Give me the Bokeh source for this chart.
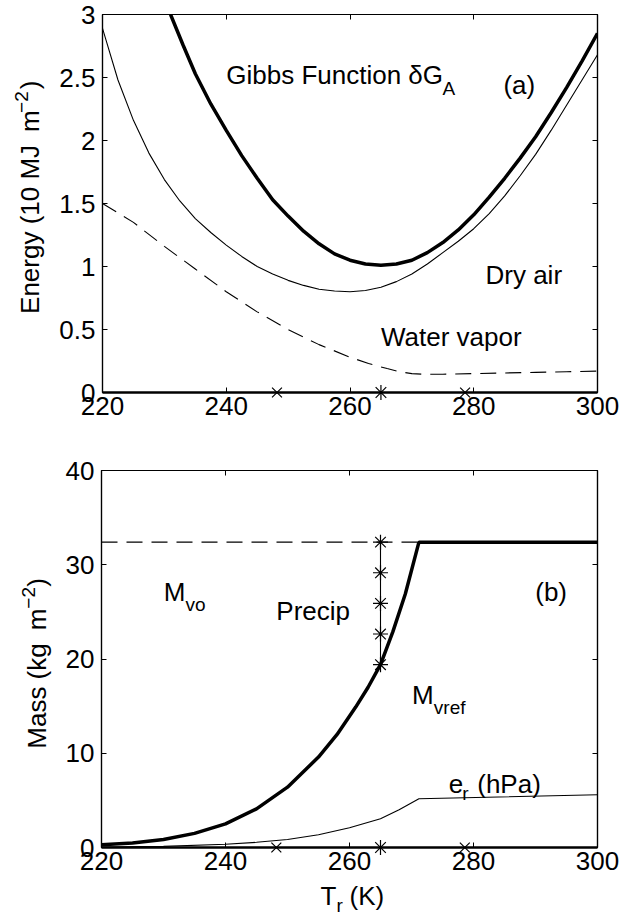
import math

from bokeh.plotting import figure
from bokeh.models import (Range1d, FixedTicker, LinearAxis, Label,
                          NumeralTickFormatter, CustomJSTickFormatter)
from bokeh.core.properties import value
from bokeh.layouts import column, row
from bokeh.embed import file_html
from bokeh.resources import INLINE

FONT = "Liberation Sans"
FS = "26px"      # main text size
FS_SUB = "19px"  # sub/superscript size

# ---------------- (a) energy, units of 10 MJ m^-2 ----------------
gibbs_T = [231, 233, 235, 237.5, 240, 242.5, 245, 247.5, 250, 252.5, 255, 257.5,
           260, 262.5, 265, 267.5, 270, 272.5, 275, 277.5, 280, 282.5, 285,
           287.5, 290, 292.5, 295, 297.5, 300]
gibbs_E = [3.00, 2.76, 2.53, 2.29, 2.08, 1.88, 1.70, 1.53, 1.40, 1.28, 1.18, 1.10,
           1.05, 1.02, 1.01, 1.02, 1.05, 1.11, 1.19, 1.29, 1.41, 1.55, 1.70,
           1.86, 2.03, 2.22, 2.42, 2.63, 2.85]

dry_T = [220, 222.5, 225, 227.5, 230, 232.5, 235, 237.5, 240, 242.5, 245, 247.5,
         250, 252.5, 255, 257.5, 260, 262.5, 265, 267.5, 270, 272.5, 275, 277.5,
         280, 282.5, 285, 287.5, 290, 292.5, 295, 297.5, 300]
dry_E = [2.89, 2.48, 2.16, 1.90, 1.69, 1.52, 1.38, 1.27, 1.17, 1.08, 1.00, 0.94,
         0.89, 0.85, 0.82, 0.805, 0.80, 0.81, 0.835, 0.88, 0.94, 1.02, 1.11, 1.20,
         1.30, 1.42, 1.56, 1.72, 1.89, 2.08, 2.28, 2.48, 2.68]

vap_T = [220, 225, 230, 235, 240, 245, 250, 255, 260, 263, 266, 268, 270, 272,
         275, 280, 285, 290, 295, 300]
vap_E = [1.50, 1.35, 1.16, 0.98, 0.80, 0.64, 0.50, 0.38, 0.28, 0.23, 0.19, 0.165,
         0.15, 0.145, 0.145, 0.15, 0.155, 0.16, 0.165, 0.17]

# ---------------- (b) mass, kg m^-2 ----------------
mvref_T = [220, 225, 230, 235, 240, 245, 250, 255, 258, 261, 263, 265, 267, 269,
           271.2, 300]
mvref_M = [0.28, 0.48, 0.85, 1.5, 2.5, 4.1, 6.4, 9.6, 12.0, 14.9, 17.0, 19.4,
           22.9, 26.9, 32.4, 32.4]

er_T = [220, 230, 240, 245, 250, 255, 260, 265, 268, 271.2, 300]
er_P = [0.05, 0.12, 0.35, 0.55, 0.85, 1.35, 2.1, 3.05, 4.0, 5.17, 5.6]

mvo_level = 32.4
mvo_T = [220, 271.2]

precip_T = 265.0
precip_M = [32.4, 29.15, 25.9, 22.65, 19.4]

cross_T = [248.2, 278.6]
star_T = [265.0]

T_ticks = [220, 240, 260, 280, 300]
E_ticks = [0, 0.5, 1, 1.5, 2, 2.5, 3]
M_ticks = [0, 10, 20, 30, 40]

BLANK = CustomJSTickFormatter(code="return ''")
UP = math.pi / 2
STRIP_W = 56


def box_axis(ticks):
    # tick marks only, pointing into the box
    return LinearAxis(ticker=FixedTicker(ticks=ticks), formatter=BLANK,
                      major_tick_in=5, major_tick_out=0,
                      minor_tick_line_color=None, major_label_standoff=0,
                      axis_line_width=1.2)


def make_panel(height, ymax, yticks, top, bottom):
    p = figure(width=627 - STRIP_W, height=height, x_range=Range1d(220, 300),
               y_range=Range1d(0, ymax), output_backend="svg",
               toolbar_location=None, min_border_left=101 - STRIP_W,
               min_border_right=30, min_border_top=top, min_border_bottom=bottom)
    p.grid.visible = False
    p.background_fill_color = "white"
    p.border_fill_color = "white"
    p.outline_line_color = "black"
    p.outline_line_width = 1.2

    p.xaxis.ticker = FixedTicker(ticks=T_ticks)
    p.yaxis.ticker = FixedTicker(ticks=yticks)
    p.yaxis.formatter = NumeralTickFormatter(format="0.[0]")
    for ax in [p.xaxis[0], p.yaxis[0]]:
        ax.major_tick_in = 5
        ax.major_tick_out = 0
        ax.minor_tick_line_color = None
        ax.major_tick_line_color = "black"
        ax.axis_line_color = "black"
        ax.axis_line_width = 1.2
        ax.major_label_text_font = FONT
        ax.major_label_text_font_size = FS
        ax.major_label_text_color = "black"
        ax.major_label_standoff = 7
    p.xaxis.major_label_standoff = 4
    p.xaxis.axis_line_width = 2.5

    p.add_layout(box_axis(yticks), "right")
    p.add_layout(box_axis(T_ticks), "above")

    # markers on the temperature axis
    r1 = p.scatter(cross_T, [0] * len(cross_T), marker="x", size=14,
                   line_color="black", line_width=1.2)
    r2 = p.scatter(star_T, [0] * len(star_T), marker="asterisk", size=15,
                   line_color="black", line_width=1.2)
    r1.level = "overlay"
    r2.level = "overlay"
    return p


def strip(width, height):
    # bare canvas in pixel units, used for axis titles
    f = figure(width=width, height=height, x_range=Range1d(0, width),
               y_range=Range1d(0, height), x_axis_type=None, y_axis_type=None,
               output_backend="svg", toolbar_location=None, min_border=0)
    f.grid.visible = False
    f.outline_line_color = None
    f.background_fill_color = "white"
    f.border_fill_color = "white"
    return f


def strip_text(f, xs, ys, texts, sizes, angle):
    # each piece is placed by the centre of its text box
    for x, y, t, s in zip(xs, ys, texts, sizes):
        f.text(x=[x], y=[y], text=[t], angle=angle, text_font=value(FONT),
               text_font_size=value(s), text_color="black",
               text_align="center", text_baseline="middle")


def label(p, x, y, text, size=FS):
    p.add_layout(Label(x=x, y=y, text=text, text_font=FONT, text_font_size=size,
                       text_color="black", text_align="left",
                       text_baseline="alphabetic"))


# ---------------- panel (a) ----------------
pa = make_panel(440, 3, E_ticks, 14, 48)
pa.line(vap_T, vap_E, line_color="black", line_width=1.1, line_dash="16 9")
pa.line(dry_T, dry_E, line_color="black", line_width=1.1)
pa.line(gibbs_T, gibbs_E, line_color="black", line_width=3.5)

label(pa, 240.0, 2.516, "Gibbs Function \u03b4G")
label(pa, 274.95, 2.41, "A", FS_SUB)
label(pa, 284.8, 2.44, "(a)")
label(pa, 281.9, 0.929, "Dry air")
label(pa, 265.0, 0.439, "Water vapor")

ya = strip(STRIP_W, 440)
strip_text(ya, [29, 21, 29], [210, 338, 358],
           ["Energy (10 MJ\u2002m", "\u22122", ")"], [FS, FS_SUB, FS], UP)

# ---------------- panel (b) ----------------
pb = make_panel(441, 40, M_ticks, 30, 34)
pb.line(mvo_T, [mvo_level] * len(mvo_T), line_color="black", line_width=1.1,
        line_dash="16 9")
pb.line(er_T, er_P, line_color="black", line_width=1.1)
pb.line(mvref_T, mvref_M, line_color="black", line_width=3.5)
pb.line([precip_T, precip_T], [min(precip_M), max(precip_M)],
        line_color="black", line_width=1.1)
pb.scatter([precip_T] * len(precip_M), precip_M, marker="asterisk", size=15,
           line_color="black", line_width=1.2)

label(pb, 230.05, 27.09, "M")
label(pb, 233.55, 25.78, "vo", FS_SUB)
label(pb, 248.2, 25.04, "Precip")
label(pb, 270.1, 16.23, "M")
label(pb, 273.6, 14.82, "vref", FS_SUB)
label(pb, 289.96, 27.16, "(b)")
label(pb, 276.0, 6.76, "e")
label(pb, 278.2, 5.70, "r", FS_SUB)
label(pb, 280.6, 6.76, "(hPa)")

yb = strip(STRIP_W, 441)
strip_text(yb, [36, 28, 36], [197.5, 292, 310],
           ["Mass (kg\u2002m", "\u22122", ")"], [FS, FS_SUB, FS], UP)

xb = strip(627, 36)
strip_text(xb, [327.9, 339.2, 366.3], [22, 11.6, 22], ["T", "r", "(K)"],
           [FS, FS_SUB, FS], 0.0)

layout = column(row(ya, pa), row(yb, pb), xb)
open("out.html", "w").write(file_html(layout, INLINE))
